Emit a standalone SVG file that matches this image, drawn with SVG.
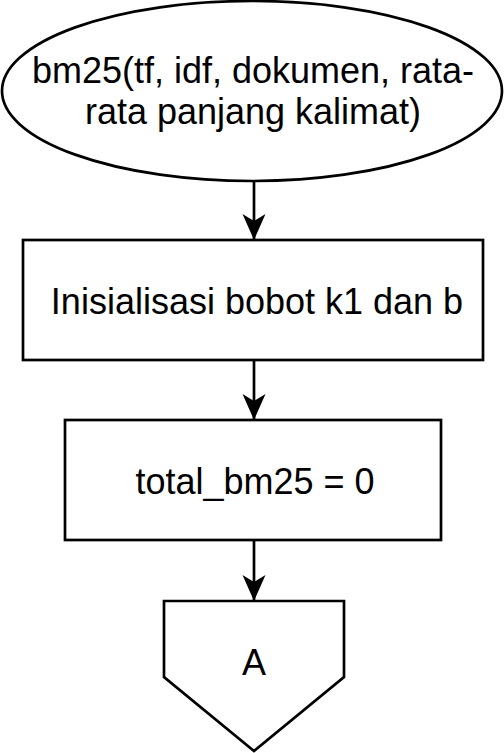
<svg xmlns="http://www.w3.org/2000/svg" width="504" height="753" viewBox="0 0 504 753">
<style>
.s{fill:#fff;stroke:#000;stroke-width:2.7}
.t{font-family:"Liberation Sans",Arial,sans-serif;font-size:36px;fill:#000;text-anchor:middle}
.c{stroke:#000;stroke-width:2.7;fill:none}
</style>
<defs>
<marker id="ah" markerWidth="26" markerHeight="24" refX="26" refY="12" orient="auto" markerUnits="userSpaceOnUse">
<path d="M0,0.5 L26,12 L0,23.5 L7,12 Z" fill="#000"/>
</marker>
</defs>
<rect width="504" height="753" fill="#fff"/>
<g id="start">
<ellipse class="s" cx="252" cy="91" rx="250" ry="90"/>
<text class="t" x="253" y="83">bm25(tf, idf, dokumen, rata-</text>
<text class="t" x="253" y="124">rata panjang kalimat)</text>
</g>
<g id="init">
<rect class="s" x="23" y="240" width="460" height="120"/>
<text class="t" x="257" y="314">Inisialisasi bobot k1 dan b</text>
</g>
<g id="total">
<rect class="s" x="65" y="420" width="376" height="120"/>
<text class="t" x="255" y="494">total_bm25 = 0</text>
</g>
<g id="connA">
<polygon class="s" points="164,601 344,601 344,677 254,751 164,677"/>
<text class="t" x="254" y="675">A</text>
</g>
<g id="connectors">
<line class="c" x1="254" y1="181" x2="254" y2="240" marker-end="url(#ah)"/>
<line class="c" x1="254" y1="360" x2="254" y2="420" marker-end="url(#ah)"/>
<line class="c" x1="254" y1="540" x2="254" y2="601" marker-end="url(#ah)"/>
</g>
</svg>
